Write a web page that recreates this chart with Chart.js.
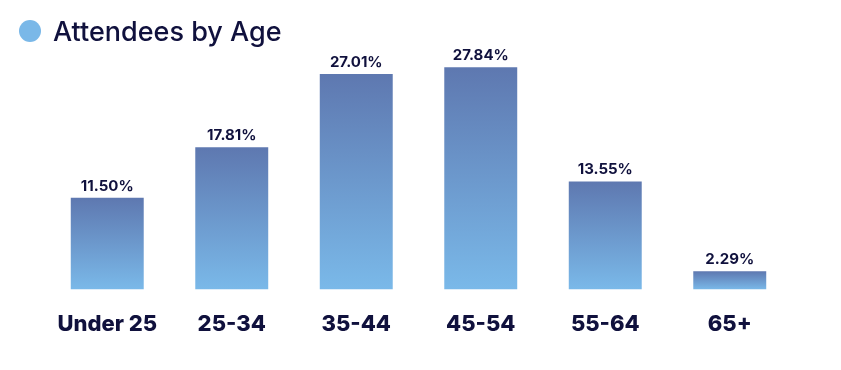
<!DOCTYPE html>
<html>
<head>
<meta charset="utf-8">
<script src="https://cdn.jsdelivr.net/npm/chart.js@4"></script>
<style>
html,body{margin:0;padding:0;background:#fff;}
#wrap{width:841px;height:370px;position:relative;}
</style>
</head>
<body>
<div id="wrap"><canvas id="c" width="841" height="370"></canvas></div>
<script>
const categories = ["Under 25", "25-34", "35-44", "45-54", "55-64", "65+"];
const values = [11.50, 17.81, 27.01, 27.84, 13.55, 2.29];
const seriesName = "Attendees by Age";

const navy = "#10113d";
const topColor = "rgb(94,120,176)";
const bottomColor = "rgb(122,185,233)";

const headerPlugin = {
  id: "header",
  afterDraw(chart) {
    const ctx = chart.ctx;
    ctx.save();
    ctx.fillStyle = "#7ab8e8";
    ctx.beginPath();
    ctx.arc(30, 31, 11, 0, Math.PI * 2);
    ctx.fill();
    ctx.fillStyle = navy;
    ctx.font = "500 27px Inter";
    ctx.textBaseline = "alphabetic";
    ctx.textAlign = "left";
    ctx.fillText(seriesName, 53, 41);
    ctx.restore();
  }
};

const valueLabels = {
  id: "valueLabels",
  afterDatasetsDraw(chart) {
    const ctx = chart.ctx;
    const meta = chart.getDatasetMeta(0);
    ctx.save();
    ctx.fillStyle = navy;
    ctx.font = "bold 15px Inter";
    ctx.textAlign = "center";
    ctx.textBaseline = "alphabetic";
    meta.data.forEach((bar, i) => {
      ctx.fillText(values[i].toFixed(2) + "%", bar.x, bar.y - 7);
    });
    ctx.restore();
  }
};

new Chart(document.getElementById("c"), {
  type: "bar",
  data: {
    labels: categories,
    datasets: [{
      label: seriesName,
      data: values,
      borderWidth: 0,
      categoryPercentage: 1,
      barPercentage: 0.586,
      backgroundColor(ctx) {
        const chart = ctx.chart;
        const area = chart.chartArea;
        const ys = chart.scales.y;
        if (!area || !ys || ctx.type !== "data") return bottomColor;
        let top = ys.getPixelForValue(ctx.raw);
        let bottom = ys.getPixelForValue(0);
        if (!isFinite(top) || !isFinite(bottom)) return bottomColor;
        if (bottom - top < 1) bottom = top + 1;
        const g = chart.ctx.createLinearGradient(0, top, 0, bottom);
        g.addColorStop(0, topColor);
        g.addColorStop(1, bottomColor);
        return g;
      }
    }]
  },
  options: {
    responsive: false,
    animation: false,
    layout: { padding: { left: 45, right: 49, top: 50, bottom: 10 } },
    plugins: {
      legend: { display: false },
      tooltip: { enabled: false }
    },
    scales: {
      x: {
        grid: { display: false, drawTicks: false },
        border: { display: false },
        ticks: {
          color: navy,
          font: { family: "Inter", size: 22, weight: "800" },
          padding: 22,
          maxRotation: 0,
          autoSkip: false
        }
      },
      y: {
        display: false,
        min: 0,
        max: 30
      }
    }
  },
  plugins: [headerPlugin, valueLabels]
});
</script>
</body>
</html>
